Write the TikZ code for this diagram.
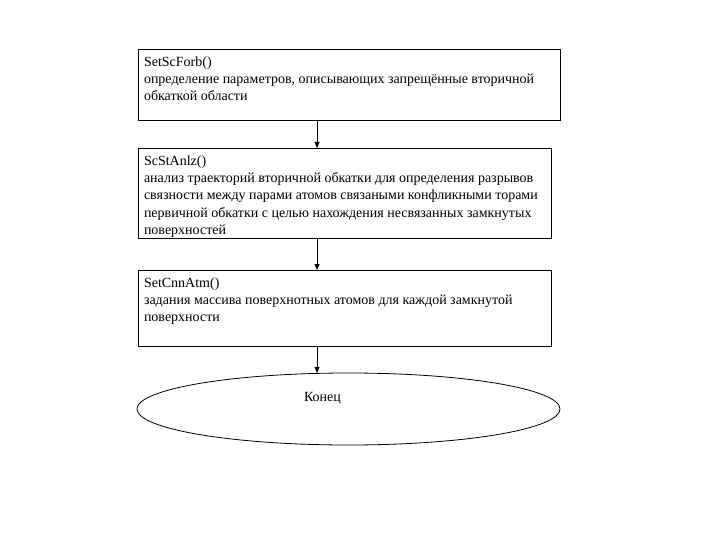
\documentclass[tikz,border=0pt]{standalone}
\usepackage{fontspec}
\setmainfont{Liberation Serif}
\usepackage{tikz}
\usetikzlibrary{positioning,shapes.geometric,arrows.meta}

\newcommand{\steptext}[3]{\parbox[t][#1][t]{#2}{\rule{0pt}{14.5pt}#3}}

\begin{document}
\begin{tikzpicture}[
        x=1pt, y=-1pt,
        line width=0.8pt,
        every node/.style = {font=\fontsize{14}{17.2}\selectfont},
        stepbox/.style = {draw, anchor=north west, inner xsep=6pt, inner ysep=3pt, outer sep=0pt, align=left},
        endbox/.style = {draw, ellipse, minimum width=423pt, minimum height=72pt, inner sep=0pt, outer sep=0pt},
        flow/.style = {-{Triangle[length=6pt,width=5pt]}}
    ]
        \useasboundingbox (0,0) rectangle (720,540);
        \coordinate (ax) at (317,0);
%
        \node[stepbox] (forb) at (138,49) {\steptext{65pt}{410pt}{SetScForb()\\
            определение параметров, описывающих запрещённые вторичной\\
            обкаткой области}};
        \node[stepbox, below=28pt of forb.south west, anchor=north west] (anlz) {\steptext{84pt}{401pt}{ScStAnlz()\\
            анализ траекторий вторичной обкатки для определения разрывов\\
            связности между парами атомов связаными конфликными торами\\
            первичной обкатки с целью нахождения несвязанных замкнутых\\
            поверхностей}};
        \node[stepbox, below=32pt of anlz.south west, anchor=north west] (cnn) {\steptext{70pt}{401pt}{SetCnnAtm()\\
            задания массива поверхнотных атомов для каждой замкнутой\\
            поверхности}};
%
        \node[endbox, below=27pt of cnn.south, xshift=4pt] (end) {};
        \node[draw=none] (endtxt) at ([xshift=-26pt, yshift=11pt]end.center) {Конец};
%
        \draw[flow] (forb.south -| ax) -- (anlz.north -| ax);
        \draw[flow] (anlz.south -| ax) -- (cnn.north -| ax);
        \draw[flow] (cnn.south -| ax) -- (end.north -| ax);
    \end{tikzpicture}
\end{document}
